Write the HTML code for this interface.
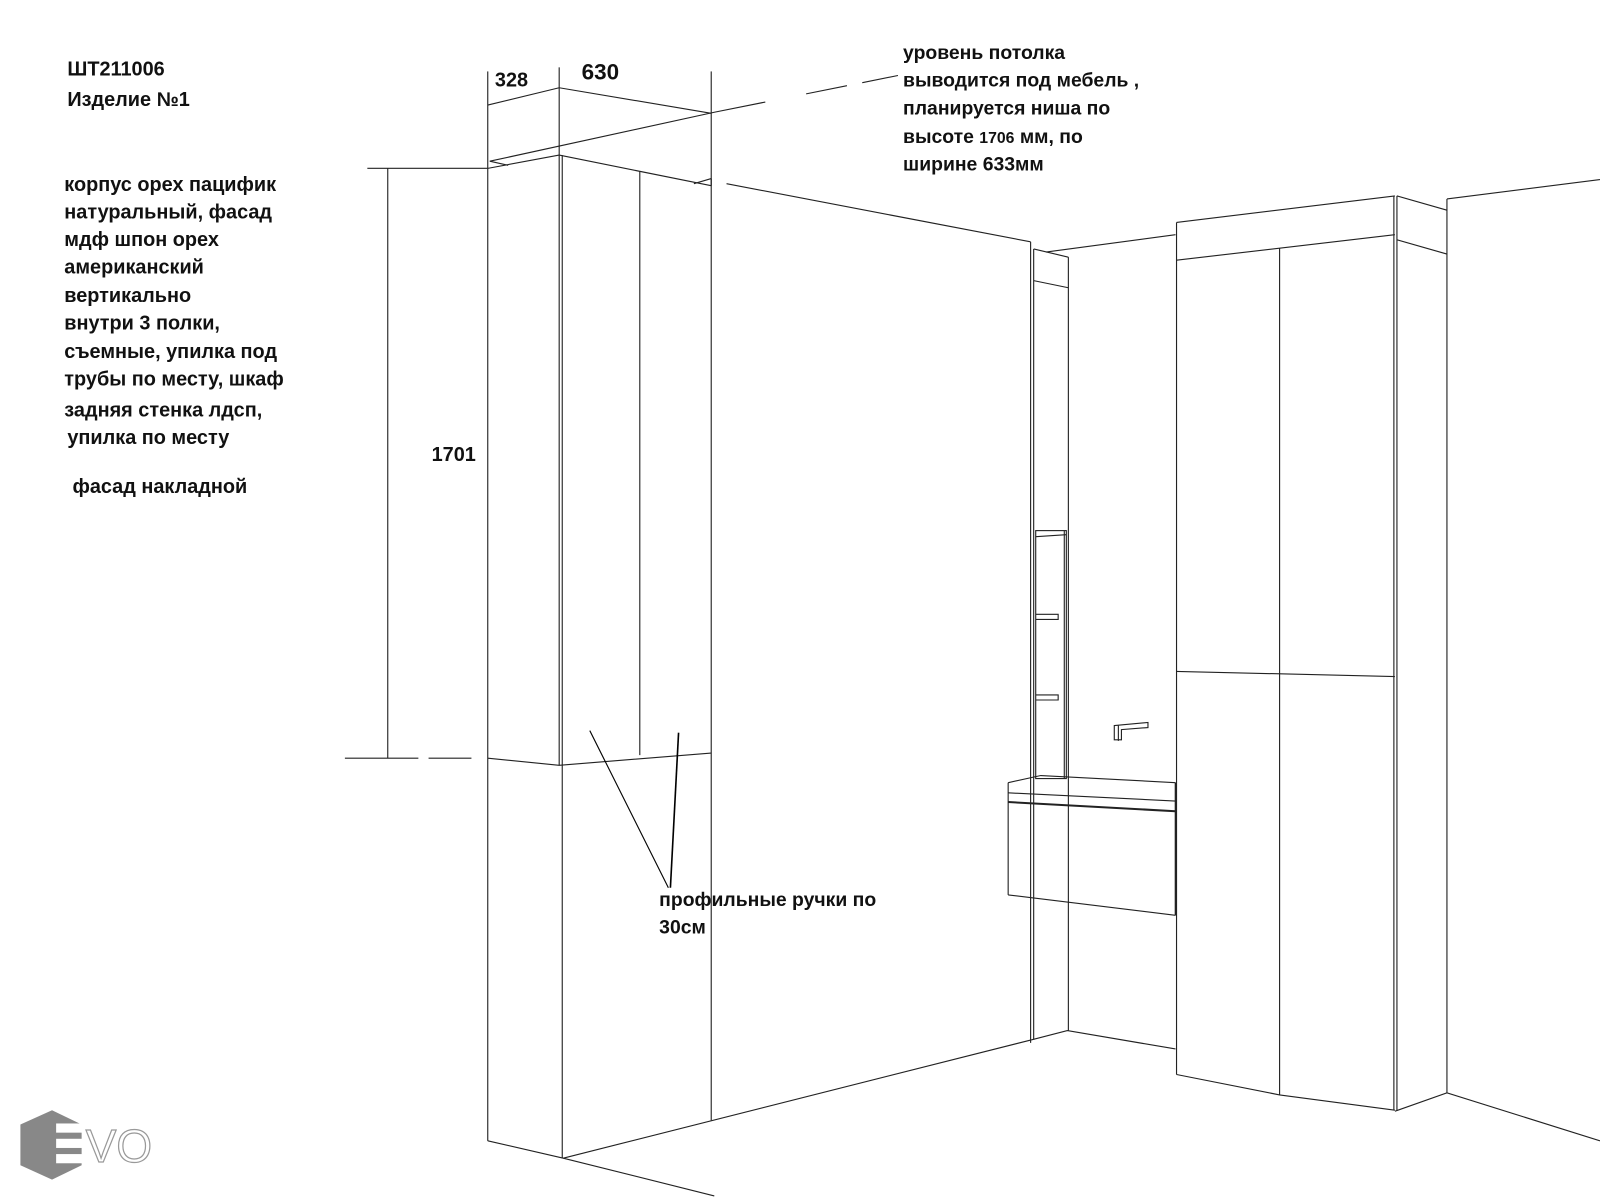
<!DOCTYPE html>
<html><head><meta charset="utf-8"><style>
html,body{margin:0;padding:0;background:#fff;width:1600px;height:1200px;overflow:hidden}
svg{display:block}
text{font-family:"Liberation Sans","Noto Sans CJK SC",sans-serif;font-weight:bold;fill:#111}
</style></head><body>
<svg width="1600" height="1200" viewBox="0 0 1568 1176" preserveAspectRatio="none" xmlns="http://www.w3.org/2000/svg">
<g stroke="#222" stroke-width="1.1" fill="none">
<line x1="478" y1="70" x2="478" y2="165"/>
<line x1="548" y1="66" x2="548" y2="152"/>
<line x1="697" y1="70" x2="697" y2="182"/>
<line x1="478" y1="103" x2="548" y2="86"/>
<line x1="548" y1="86" x2="697" y2="111"/>
<polyline points="480,158 700,110 750,100"/>
<line x1="790" y1="92" x2="830" y2="84"/>
<line x1="845" y1="81" x2="880" y2="74"/>
<line x1="478" y1="165" x2="548" y2="152"/>
<line x1="480" y1="158" x2="498" y2="162"/>
<line x1="548" y1="152" x2="697" y2="182"/>
<line x1="680" y1="180" x2="697" y2="175"/>
<line x1="478" y1="165" x2="478" y2="1118"/>
<line x1="548" y1="152" x2="548" y2="750"/>
<line x1="551" y1="152" x2="551" y2="1135"/>
<line x1="627" y1="168" x2="627" y2="740"/>
<line x1="697" y1="175" x2="697" y2="1098"/>
<polyline points="478,743 548,750 697,738"/>
<line x1="360" y1="165" x2="478" y2="165"/>
<line x1="380" y1="165" x2="380" y2="743"/>
<line x1="338" y1="743" x2="410" y2="743"/>
<line x1="420" y1="743" x2="462" y2="743"/>
<line x1="578" y1="716" x2="655" y2="870" stroke="#000"/>
<line x1="665" y1="718" x2="657" y2="870" stroke="#000" stroke-width="1.6"/>
<polyline points="478,1118 552,1135 700,1172"/>
<line x1="552" y1="1135" x2="1011" y2="1019"/>
<line x1="712" y1="180" x2="1010" y2="237"/>
<line x1="1010" y1="237" x2="1010" y2="1022"/>
<line x1="1013" y1="244" x2="1013" y2="1019"/>
<line x1="1047" y1="252" x2="1047" y2="1010"/>
<line x1="1013" y1="244" x2="1047" y2="252"/>
<line x1="1025" y1="247" x2="1152" y2="230"/>
<line x1="1013" y1="275" x2="1047" y2="282"/>
<rect x="1015" y="520" width="30" height="243"/>
<line x1="1015" y1="526" x2="1045" y2="524"/>
<line x1="1043" y1="520" x2="1043" y2="763"/>
<path d="M1015 602 h22 v5 h-22 M1015 681 h22 v5 h-22"/>
<path d="M1092 711 l33 -3 v5 l-26 2 v10 h-7 z M1096 711 v15"/>
<polyline points="988,767 1020,760 1152,767"/>
<line x1="988" y1="767" x2="988" y2="877"/>
<line x1="988" y1="777" x2="1152" y2="785"/>
<line x1="988" y1="786" x2="1152" y2="795" stroke-width="2"/>
<line x1="988" y1="877" x2="1152" y2="897"/>
<line x1="1152" y1="767" x2="1152" y2="897" stroke-width="1.6"/>
<polyline points="1011,1019 1046,1010 1152,1028"/>
<line x1="1153" y1="218" x2="1367" y2="192"/>
<line x1="1153" y1="255" x2="1367" y2="230"/>
<line x1="1153" y1="218" x2="1153" y2="1053"/>
<line x1="1254" y1="243" x2="1254" y2="1073"/>
<line x1="1366" y1="192" x2="1366" y2="1088"/>
<line x1="1369" y1="192" x2="1369" y2="1088"/>
<line x1="1153" y1="658" x2="1367" y2="663"/>
<polyline points="1153,1053 1254,1073 1367,1088"/>
<line x1="1369" y1="192" x2="1418" y2="206"/>
<line x1="1369" y1="235" x2="1418" y2="249"/>
<line x1="1418" y1="195" x2="1418" y2="1071"/>
<line x1="1418" y1="195" x2="1568" y2="176"/>
<polyline points="1367,1089 1418,1071 1568,1118"/>
</g>
<g font-size="19.5">
<text x="66" y="74">ШТ211006</text>
<text x="66" y="104">Изделие №1</text>
<text x="63" y="187">корпус орех пацифик</text>
<text x="63" y="214">натуральный, фасад</text>
<text x="63" y="241">мдф шпон орех</text>
<text x="63" y="268">американский</text>
<text x="63" y="296">вертикально</text>
<text x="63" y="323">внутри 3 полки,</text>
<text x="63" y="351">съемные, упилка под</text>
<text x="63" y="378">трубы по месту, шкаф</text>
<text x="63" y="408">задняя стенка лдсп,</text>
<text x="66" y="435">упилка по месту</text>
<text x="71" y="483">фасад накладной</text>
<text x="423" y="452">1701</text>
<text x="485" y="85">328</text>
<text x="570" y="78" font-size="22">630</text>
</g>
<g font-size="19">
<text x="885" y="58">уровень потолка</text>
<text x="885" y="85">выводится под мебель ,</text>
<text x="885" y="112">планируется ниша по</text>
<text x="885" y="140">высоте <tspan font-size="15.5">1706</tspan> мм, по</text>
<text x="885" y="167">ширине 633мм</text>
<text x="646" y="888">профильные ручки по</text>
<text x="646" y="915">30см</text>
</g>
<polygon points="51,1088 80,1102 80,1142 51,1156 20,1142 20,1102" fill="#888"/>
<rect x="55" y="1101" width="27" height="9" fill="#fff"/>
<rect x="55" y="1116" width="27" height="9" fill="#fff"/>
<rect x="55" y="1131" width="27" height="9" fill="#fff"/>
<text x="84" y="1139" font-size="45" style="fill:#fff;stroke:#999;stroke-width:1.2;font-weight:normal">VO</text>
</svg>
</body></html>
